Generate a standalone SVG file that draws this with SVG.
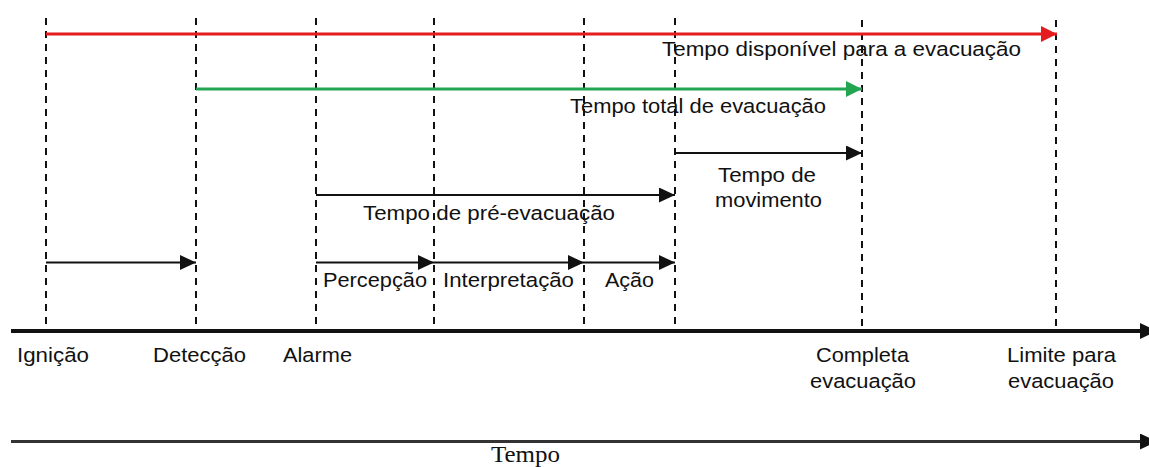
<svg xmlns="http://www.w3.org/2000/svg" width="1149" height="467" viewBox="0 0 1149 467">
<style>
.dash{stroke:#111;stroke-width:2;stroke-dasharray:7 6;fill:none}
.blk{stroke:#111;stroke-width:2;fill:none}
.t{font-family:"Liberation Sans",Arial,sans-serif;font-size:20.5px;fill:#111}
.ser{font-family:"Liberation Serif","Times New Roman",serif;font-size:24px;fill:#111}
</style>
<defs>
<marker id="hb" markerUnits="userSpaceOnUse" markerWidth="17" markerHeight="15" refX="16" refY="7.5" orient="auto"><path d="M0,0 L16,7.5 L0,15 Z" fill="#111"/></marker>
<marker id="hr" markerUnits="userSpaceOnUse" markerWidth="17" markerHeight="16" refX="16" refY="8" orient="auto"><path d="M0,0 L16,8 L0,16 Z" fill="#e41b1f"/></marker>
<marker id="hg" markerUnits="userSpaceOnUse" markerWidth="17" markerHeight="16" refX="16" refY="8" orient="auto"><path d="M0,0 L16,8 L0,16 Z" fill="#23a552"/></marker>
<marker id="ha" markerUnits="userSpaceOnUse" markerWidth="18" markerHeight="16" refX="17" refY="8" orient="auto"><path d="M0,0 L17,8 L0,16 Z" fill="#111"/></marker>
</defs>
<g id="guides">
<line class="dash" x1="46" y1="18" x2="46" y2="331"/>
<line class="dash" x1="196" y1="18" x2="196" y2="331"/>
<line class="dash" x1="316" y1="18" x2="316" y2="331"/>
<line class="dash" x1="434" y1="18" x2="434" y2="331"/>
<line class="dash" x1="584" y1="18" x2="584" y2="331"/>
<line class="dash" x1="675" y1="18" x2="675" y2="331"/>
<line class="dash" x1="862" y1="20" x2="862" y2="331"/>
<line class="dash" x1="1056" y1="20" x2="1056" y2="331"/>
</g>
<g id="connectors">
<line x1="46" y1="34" x2="1057" y2="34" stroke="#e41b1f" stroke-width="3" marker-end="url(#hr)"/>
<line x1="196" y1="89" x2="862" y2="89" stroke="#23a552" stroke-width="3" marker-end="url(#hg)"/>
<line class="blk" x1="675" y1="153" x2="862" y2="153" marker-end="url(#hb)"/>
<line class="blk" x1="316" y1="195" x2="675" y2="195" marker-end="url(#hb)"/>
<line class="blk" x1="46" y1="262.5" x2="196" y2="262.5" marker-end="url(#hb)"/>
<line class="blk" x1="316" y1="262.5" x2="434" y2="262.5" marker-end="url(#hb)"/>
<line class="blk" x1="434" y1="262.5" x2="584" y2="262.5" marker-end="url(#hb)"/>
<line class="blk" x1="584" y1="262.5" x2="675" y2="262.5" marker-end="url(#hb)"/>
<line x1="11" y1="331" x2="1157" y2="331" stroke="#111" stroke-width="4" marker-end="url(#ha)"/>
<line x1="11" y1="441.5" x2="1157" y2="441.5" stroke="#333" stroke-width="3" marker-end="url(#ha)"/>
</g>
<g id="labels">
<text class="t" x="662" y="55.5" textLength="359" lengthAdjust="spacingAndGlyphs">Tempo disponível para a evacuação</text>
<text class="t" x="570" y="113" textLength="256" lengthAdjust="spacingAndGlyphs">Tempo total de evacuação</text>
<text class="t" x="718" y="182" textLength="98" lengthAdjust="spacingAndGlyphs">Tempo de</text>
<text class="t" x="715" y="206.5" textLength="107" lengthAdjust="spacingAndGlyphs">movimento</text>
<text class="t" x="363" y="219.5" textLength="252" lengthAdjust="spacingAndGlyphs">Tempo de pré-evacuação</text>
<text class="t" x="323" y="287" textLength="104" lengthAdjust="spacingAndGlyphs">Percepção</text>
<text class="t" x="443" y="287" textLength="131" lengthAdjust="spacingAndGlyphs">Interpretação</text>
<text class="t" x="605" y="287" textLength="49" lengthAdjust="spacingAndGlyphs">Ação</text>
<text class="t" x="17" y="361.5" textLength="72" lengthAdjust="spacingAndGlyphs">Ignição</text>
<text class="t" x="153" y="361.5" textLength="93" lengthAdjust="spacingAndGlyphs">Detecção</text>
<text class="t" x="283" y="361.5" textLength="69" lengthAdjust="spacingAndGlyphs">Alarme</text>
<text class="t" x="816" y="362" textLength="93" lengthAdjust="spacingAndGlyphs">Completa</text>
<text class="t" x="810" y="387.5" textLength="106" lengthAdjust="spacingAndGlyphs">evacuação</text>
<text class="t" x="1007" y="362" textLength="109" lengthAdjust="spacingAndGlyphs">Limite para</text>
<text class="t" x="1008" y="387.5" textLength="106" lengthAdjust="spacingAndGlyphs">evacuação</text>
<text class="ser" x="491" y="461.5" textLength="69" lengthAdjust="spacingAndGlyphs">Tempo</text>
</g>
</svg>
